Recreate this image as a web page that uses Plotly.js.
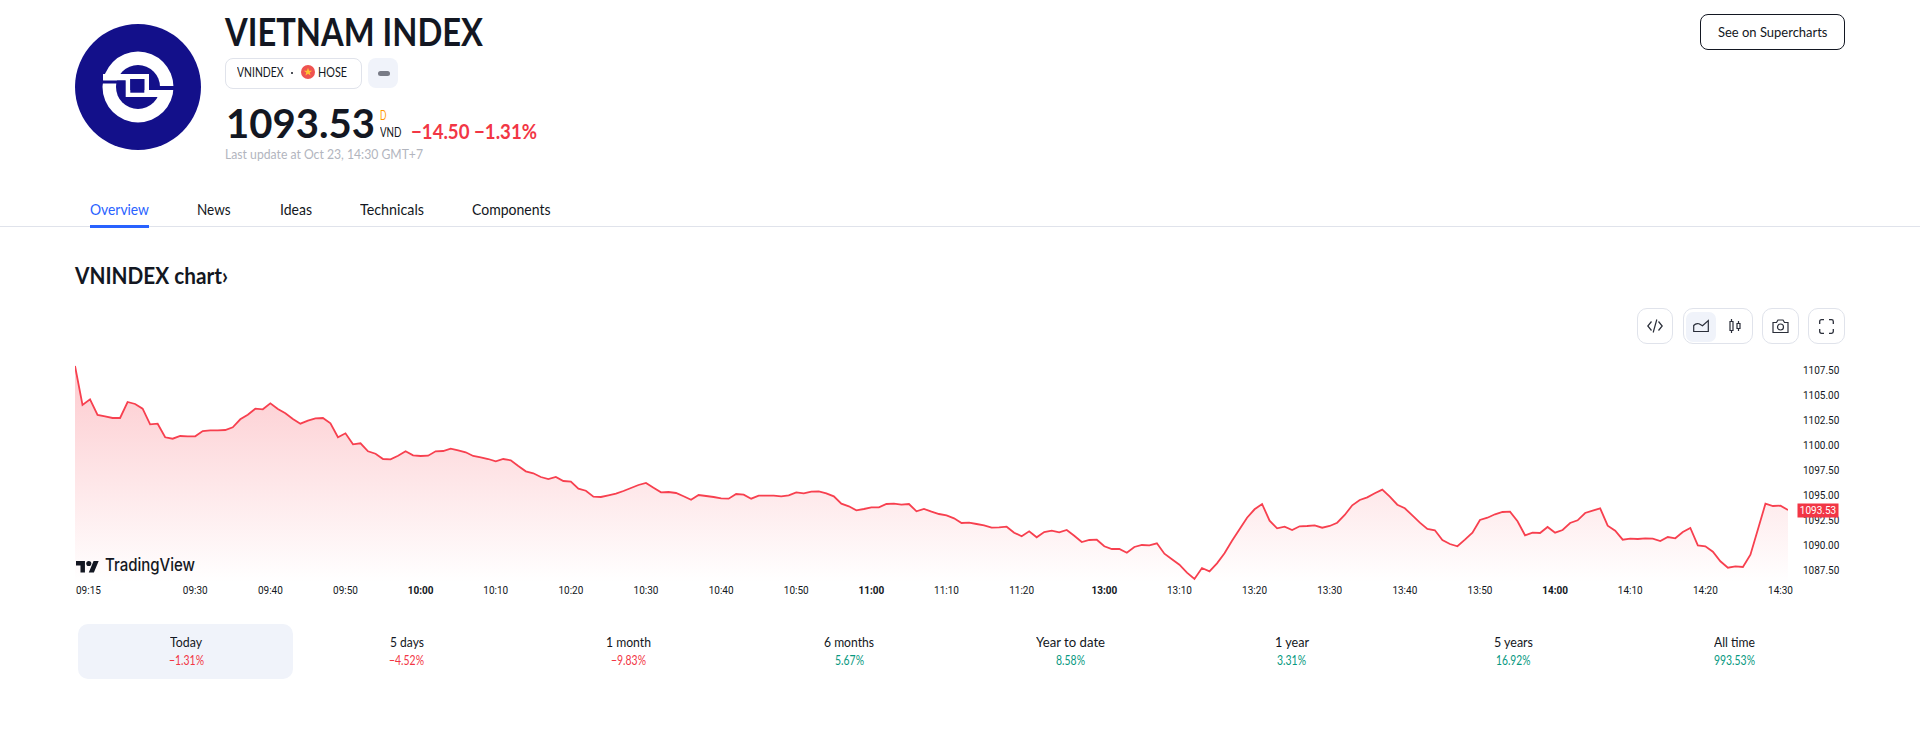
<!DOCTYPE html>
<html>
<head>
<meta charset="utf-8">
<script src="https://cdn.plot.ly/plotly-3.0.1.min.js"></script>
<style>
html,body{margin:0;padding:0;background:#fff;width:1920px;height:740px;overflow:hidden}
#page{position:relative;width:1920px;height:740px;font-family:Lato,"Open Sans",sans-serif;color:#131722}
.t{position:absolute;white-space:nowrap;line-height:1;transform-origin:left center}
.box{position:absolute;box-sizing:border-box}
#chart{position:absolute;left:0;top:350px;width:1920px;height:260px}
svg{position:absolute;overflow:visible}
</style>
</head>
<body>
<div id="page">
<svg style="left:75px;top:24px" width="126" height="126" viewBox="-63 -63 126 126">
  <circle r="63" fill="#13108a"/>
  <circle r="35.5" fill="#fff"/>
  <circle r="22" fill="#13108a"/>
  <rect x="-35" y="-13" width="46" height="6.5" fill="#fff"/>
  <rect x="-37" y="-6.5" width="24.7" height="3" fill="#13108a"/>
  <rect x="-12.3" y="-11" width="23.3" height="21" fill="#fff"/>
  <rect x="-7.7" y="-8" width="14" height="13.7" fill="#13108a"/>
  <rect x="-12" y="3" width="35" height="7" fill="#fff"/>
  <rect x="-7.7" y="-8" width="14" height="13.7" fill="#13108a"/>
  <rect x="11" y="-1" width="27" height="4" fill="#13108a"/>
</svg>
<div class="box" style="left:225px;top:58px;width:137px;height:31px;border:1px solid #e0e3eb;border-radius:8px"></div>
<div class="box" style="left:368px;top:58px;width:30px;height:30px;background:#f0f3fa;border-radius:8px"></div>
<div class="box" style="left:377.5px;top:71px;width:12px;height:4.5px;background:#787b86;border-radius:3px"></div>
<div class="box" style="left:291px;top:71.5px;width:2.4px;height:2.4px;background:#131722;border-radius:50%"></div>
<svg style="left:300.7px;top:65.3px" width="14" height="14" viewBox="-7 -7 14 14">
  <circle r="7" fill="#ef5350"/>
  <polygon points="0,-4.3 1.1,-1.3 4.2,-1.3 1.7,0.6 2.6,3.6 0,1.8 -2.6,3.6 -1.7,0.6 -4.2,-1.3 -1.1,-1.3" fill="#ffc233"/>
</svg>
<div class="box" style="left:90px;top:225px;width:59px;height:3px;background:#2962ff;z-index:2"></div>
<div class="box" style="left:0;top:226px;width:1920px;height:1px;background:#e0e3eb"></div>
<div class="box" style="left:1700px;top:14px;width:145px;height:36px;border:1px solid #131722;border-radius:8px"></div>
<div class="box" style="left:1637px;top:308px;width:36px;height:36px;border:1px solid #e0e3eb;border-radius:10px"></div>
<div class="box" style="left:1683px;top:308px;width:70px;height:36px;border:1px solid #e0e3eb;border-radius:10px"></div>
<div class="box" style="left:1686px;top:312px;width:30px;height:30px;background:#f0f3fa;border-radius:7px"></div>
<div class="box" style="left:1762px;top:308px;width:37px;height:36px;border:1px solid #e0e3eb;border-radius:10px"></div>
<div class="box" style="left:1808px;top:308px;width:37px;height:36px;border:1px solid #e0e3eb;border-radius:10px"></div>
<svg style="left:1647px;top:318px" width="16" height="16" viewBox="0 0 16 16" fill="none" stroke="#2a2e39" stroke-width="1.2"><path d="M4.5 3.5 0.8 8l3.7 4.5M11.5 3.5 15.2 8l-3.7 4.5M9.8 1.5 6.2 14.5"/></svg>
<svg style="left:1693px;top:319px" width="16" height="14" viewBox="0 0 16 14" fill="none" stroke="#2a2e39" stroke-width="1.2"><path d="M0.7 12.5V6.5Q3 3.8 6 4.8L9.5 6.7 15.3 1.5V12.5Z"/></svg>
<svg style="left:1729px;top:318px" width="12" height="16" viewBox="0 0 12 16" fill="none" stroke="#2a2e39" stroke-width="1.2"><path d="M1 3.5h3v9H1zM8 5.5h3v5H8zM2.5 1v2.5M2.5 12.5V15M9.5 3v2.5M9.5 10.5V13"/></svg>
<svg style="left:1772px;top:318px" width="17" height="16" viewBox="0 0 17 16" fill="none" stroke="#2a2e39" stroke-width="1.2"><path d="M1 4.5h3.5L6 2h5l1.5 2.5H16v10H1z"/><circle cx="8.5" cy="9" r="3"/></svg>
<svg style="left:1819px;top:319px" width="15" height="15" viewBox="0 0 15 15" fill="none" stroke="#2a2e39" stroke-width="1.3"><path d="M0.7 5V2.5Q0.7 0.7 2.5 0.7H5M10 0.7h2.5q1.8 0 1.8 1.8V5M14.3 10v2.5q0 1.8-1.8 1.8H10M5 14.3H2.5Q0.7 14.3 0.7 12.5V10"/></svg>
<div class="box" style="left:78px;top:624px;width:215px;height:55px;background:#f0f3fa;border-radius:10px"></div>
<div id="chart"></div>
<svg style="left:76px;top:560.5px;z-index:5" width="23" height="11.5" viewBox="0 4 36 18" preserveAspectRatio="none" fill="#131722"><path d="M14 22H7V11H0V4h14v18zM28 22h-8l7.5-18h8L28 22z"/><circle cx="20" cy="8" r="4"/></svg>
</div>
<script>
// Bar index of the tick labels on the time axis and their text
const tickBars = [16,26,36,46,56,66,76,86,96,106,116,126,137,147,157,167,177,187,197,207,217,227];
const tickLabels = ["09:30","09:40","09:50","<b>10:00</b>","10:10","10:20","10:30","10:40","10:50","<b>11:00</b>","11:10","11:20","<b>13:00</b>","13:10","13:20","13:30","13:40","13:50","<b>14:00</b>","14:10","14:20","14:30"];
const firstLabel = "09:15";
// Price levels on the right-hand axis
const priceTicks = [1087.5,1090,1092.5,1095,1097.5,1100,1102.5,1105,1107.5];
const priceTickLabels = ["1087.50","1090.00","1092.50","1095.00","1097.50","1100.00","1102.50","1105.00","1107.50"];
const lastPrice = 1093.53;
// One value per bar
const closes = [
1107.93,1104.03,1104.60,1103.03,1102.90,1102.73,1102.73,1104.33,1104.13,1103.66,
1102.10,1102.16,1100.80,1100.66,1100.93,1100.90,1100.90,1101.43,1101.50,1101.50,
1101.53,1101.80,1102.60,1103.06,1103.66,1103.60,1104.20,1103.63,1103.20,1102.63,
1102.16,1102.46,1102.70,1102.73,1102.20,1100.80,1101.20,1100.10,1100.20,1099.40,
1099.16,1098.63,1098.60,1098.96,1099.40,1099.00,1098.93,1098.96,1099.40,1099.43,
1099.66,1099.50,1099.30,1098.93,1098.80,1098.63,1098.40,1098.63,1098.50,1097.93,
1097.40,1097.20,1096.83,1096.63,1096.83,1096.43,1096.36,1095.66,1095.46,1094.86,
1094.83,1095.00,1095.16,1095.43,1095.73,1096.03,1096.23,1095.76,1095.30,1095.33,
1095.23,1094.90,1094.56,1095.03,1094.93,1094.83,1094.70,1094.66,1095.13,1095.06,
1094.66,1094.96,1094.96,1094.96,1094.90,1095.00,1095.30,1095.20,1095.36,1095.40,
1095.20,1094.90,1094.16,1093.90,1093.50,1093.63,1093.80,1093.80,1094.13,1094.16,
1094.06,1094.13,1093.40,1093.63,1093.36,1093.13,1093.00,1092.70,1092.23,1092.26,
1092.13,1092.00,1091.76,1091.80,1091.86,1091.26,1090.90,1091.40,1090.80,1091.33,
1091.46,1091.30,1091.53,1090.96,1090.33,1090.53,1090.56,1089.90,1089.63,1089.63,
1089.26,1089.83,1090.03,1090.00,1090.20,1089.16,1088.60,1088.06,1087.26,1086.63,
1087.73,1087.40,1088.20,1089.20,1090.46,1091.60,1092.76,1093.60,1094.13,1092.46,
1091.70,1091.86,1091.53,1091.90,1091.93,1092.00,1091.76,1091.93,1092.26,1093.03,
1094.00,1094.53,1094.80,1095.20,1095.56,1094.86,1094.06,1093.70,1093.00,1092.26,
1091.63,1091.50,1090.53,1090.13,1089.90,1090.56,1091.26,1092.53,1092.76,1093.10,
1093.33,1093.36,1092.40,1091.00,1091.26,1091.23,1091.83,1091.26,1091.53,1092.23,
1092.50,1093.23,1093.46,1093.70,1091.96,1091.46,1090.56,1090.66,1090.63,1090.70,
1090.66,1090.43,1090.83,1090.70,1091.33,1091.73,1090.00,1089.90,1089.36,1088.40,
1087.76,1087.90,1087.83,1089.06,1091.60,1094.16,1093.93,1093.96,1093.53];
// Performance strip
const periods = ["Today","5 days","1 month","6 months","Year to date","1 year","5 years","All time"];
const changes = ["−1.31%","−4.52%","−9.83%","5.67%","8.58%","3.31%","16.92%","993.53%"];
const periodCentres = [186.3,406.7,628,849,1070,1291.8,1513.4,1734];
const periodWidths = [32,34,45,50,69,34,39,41];
const changeWidths = [35,35,35,29,29,29,34.4,41];
// Tabs
const tabs = ["Overview","News","Ideas","Technicals","Components"];
const tabLefts = [90,197,280,359.6,472];
const tabWidths = [59,33.6,32,64,78.6];

const RED="#f23645", GREEN="#089981", INK="#131722";
const page=document.getElementById('page');
function put(text,x,cy,size,weight,color,width,anchor,family){
  const e=document.createElement('div');e.className='t';e.textContent=text;
  e.style.fontSize=size+'px';e.style.fontWeight=weight;e.style.color=color;
  if(family)e.style.fontFamily=family;
  e.style.zIndex=6;page.appendChild(e);
  const w=e.getBoundingClientRect().width,h=e.getBoundingClientRect().height;
  const k=width?width/w:1,fw=w*k;
  const l=anchor==='c'?x-fw/2:x;
  e.style.left=l+'px';e.style.top=(cy-h/2)+'px';
  e.style.transform='scaleX('+k+')';
}
put("VIETNAM INDEX",225,31,38,700,INK,258);
put("VNINDEX",236.7,72.5,13,400,INK,46.5);
put("HOSE",318,72.5,13,400,INK,29);
put("1093.53",226,123,40,700,INK,149);
put("D",379.6,115,13,400,"#ff9800",6.5);
put("VND",379.6,132.5,13,400,INK,21.5);
put("−14.50 −1.31%",411,131,20,700,RED,126);
put("Last update at Oct 23, 14:30 GMT+7",225,154,13,400,"#b2b5be",198);
tabs.forEach((t,i)=>put(t,tabLefts[i],208.8,16,400,i===0?"#2962ff":INK,tabWidths[i]));
put("VNINDEX chart›",75,275.5,22,700,INK,153);
put("See on Supercharts",1717.7,32,13,400,INK,109.5);
periods.forEach((p,i)=>{
  put(p,periodCentres[i],641.5,14,400,INK,periodWidths[i],'c');
  put(changes[i],periodCentres[i],660.5,13,400,changes[i][0]==='−'?RED:GREEN,changeWidths[i],'c');
});
put("TradingView",105,565.5,17,500,INK,90,null,"Inter");

const bars=closes.map((_,i)=>i);
Plotly.newPlot('chart',[{
  x:bars,y:closes,type:'scatter',mode:'lines',
  line:{color:'#f7404f',width:1.8,simplify:false},
  fill:'tozeroy',
  fillgradient:{type:'vertical',start:1108,stop:1086.3,
    colorscale:[[0,'rgba(247,64,79,0.28)'],[1,'rgba(247,64,79,0)']]},
  hoverinfo:'skip',showlegend:false
}],{
  width:1920,height:260,
  margin:{l:75,r:131.5,t:5,b:28},
  paper_bgcolor:'rgba(0,0,0,0)',plot_bgcolor:'rgba(0,0,0,0)',
  font:{family:'"Liberation Sans Narrow",Roboto,sans-serif',size:10,color:INK},
  showlegend:false,
  xaxis:{range:[0,228],tickmode:'array',tickvals:tickBars,ticktext:tickLabels,
    showgrid:false,zeroline:false,showline:false,ticks:'',tickangle:0,ticklabelstandoff:1,
    tickfont:{size:10,color:INK}},
  yaxis:{range:[1086.33,1109.03],side:'right',tickmode:'array',tickvals:priceTicks,ticktext:priceTickLabels,
    showgrid:false,zeroline:false,showline:false,ticks:'',ticklabelstandoff:14,
    tickfont:{size:10,color:INK}},
  annotations:[
    {xref:'x',yref:'paper',x:0,y:0,yshift:-8.2,yanchor:'middle',xanchor:'left',text:firstLabel,showarrow:false,
     font:{size:10,color:INK},xshift:-1},
    {xref:'paper',yref:'y',x:1.0178,y:lastPrice,xanchor:'center',yanchor:'middle',text:String(lastPrice),showarrow:false,
     bgcolor:RED,font:{size:10,color:'#fff'},width:40,height:12.7,borderpad:0}
  ]
},{displayModeBar:false,staticPlot:true});
</script>
</body>
</html>
